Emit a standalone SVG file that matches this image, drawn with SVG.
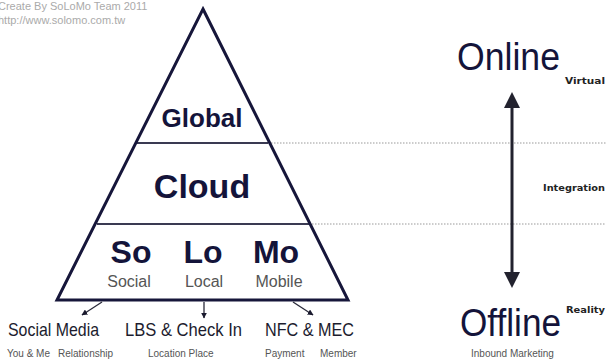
<svg xmlns="http://www.w3.org/2000/svg" width="607" height="360" viewBox="0 0 607 360">
  <defs>
    <marker id="thin" viewBox="0 0 10 10" refX="9" refY="5" markerWidth="6" markerHeight="6" orient="auto" markerUnits="userSpaceOnUse">
      <path d="M0,0 L10,5 L0,10 Z" fill="#1a1a2e"/>
    </marker>
  </defs>
  <style>
    .edge { stroke: #16163a; stroke-width: 3; fill: none; stroke-linejoin: miter; }
    .divider { stroke: #3a3a52; stroke-width: 2; }
    .dots { stroke: #999; stroke-width: 1; stroke-dasharray: 1.5 1.5; }
    .tier { font-family: "Liberation Sans", Arial, sans-serif; font-weight: bold; fill: #14143a; text-anchor: middle; }
    .sub { font-family: "Liberation Sans", Arial, sans-serif; fill: #555; text-anchor: middle; font-size: 16px; }
    .label { font-family: "Liberation Sans", Arial, sans-serif; fill: #1c1c2e; font-size: 19px; }
    .note { font-family: "Liberation Sans", Arial, sans-serif; fill: #555; font-size: 10px; }
    .big { font-family: "Liberation Sans", Arial, sans-serif; fill: #14143a; font-size: 38px; }
    .tag { font-family: "DejaVu Sans", Verdana, sans-serif; font-weight: bold; fill: #222; font-size: 9px; }
    .credit { font-family: "Liberation Sans", Arial, sans-serif; fill: #aaa; font-size: 11px; }
    .link { stroke: #2a2a3a; stroke-width: 1.3; }
  </style>

  <rect width="607" height="360" fill="#fff"/>

  <!-- credit lines -->
  <text class="credit" x="-2" y="10">Create By SoLoMo Team 2011</text>
  <text class="credit" x="-2" y="24">http://www.solomo.com.tw</text>

  <!-- dotted level guides -->
  <g id="guides">
    <line class="dots" x1="268" y1="143" x2="606" y2="143"/>
    <line class="dots" x1="309" y1="224" x2="606" y2="224"/>
  </g>

  <!-- pyramid -->
  <g id="pyramid">
    <line class="divider" x1="137" y1="143" x2="268" y2="143"/>
    <line class="divider" x1="97" y1="224" x2="309" y2="224"/>
    <polygon class="edge" points="203,9 348,300 57,300"/>
  </g>

  <g id="global">
    <text class="tier" x="202" y="127" font-size="26">Global</text>
  </g>
  <g id="cloud">
    <text class="tier" x="202" y="198" font-size="34">Cloud</text>
  </g>
  <g id="solomo">
    <text class="tier" x="131" y="263" font-size="32">So</text>
    <text class="tier" x="203" y="263" font-size="32">Lo</text>
    <text class="tier" x="276" y="263" font-size="32">Mo</text>
    <text class="sub" x="129" y="287">Social</text>
    <text class="sub" x="204" y="287">Local</text>
    <text class="sub" x="279" y="287">Mobile</text>
  </g>

  <!-- connectors from pyramid base -->
  <g id="connectors">
    <line class="link" x1="102" y1="302" x2="82" y2="315" marker-end="url(#thin)"/>
    <line class="link" x1="204" y1="302" x2="204" y2="318" marker-end="url(#thin)"/>
    <line class="link" x1="293" y1="302" x2="313" y2="315" marker-end="url(#thin)"/>
    <!-- online/offline axis -->
    <line x1="512" y1="104" x2="512" y2="274" stroke="#22222e" stroke-width="3"/>
    <polygon points="512,92 504,108 520,108" fill="#22222e"/>
    <polygon points="512,288 504,272 520,272" fill="#22222e"/>
  </g>

  <g id="social-media">
    <text class="label" x="8" y="336" textLength="91" lengthAdjust="spacingAndGlyphs">Social Media</text>
    <text class="note" x="7" y="357">You &amp; Me</text>
    <text class="note" x="58" y="357">Relationship</text>
  </g>
  <g id="lbs">
    <text class="label" x="125" y="336" textLength="117" lengthAdjust="spacingAndGlyphs">LBS &amp; Check In</text>
    <text class="note" x="148" y="357">Location Place</text>
  </g>
  <g id="nfc">
    <text class="label" x="265" y="336" textLength="89" lengthAdjust="spacingAndGlyphs">NFC &amp; MEC</text>
    <text class="note" x="265" y="357">Payment</text>
    <text class="note" x="320" y="357">Member</text>
  </g>

  <g id="online">
    <text class="big" x="457" y="70" textLength="103" lengthAdjust="spacingAndGlyphs">Online</text>
    <text class="tag" x="565" y="84" textLength="40" lengthAdjust="spacingAndGlyphs">Virtual</text>
  </g>
  <g id="integration">
    <text class="tag" x="543" y="191" textLength="62" lengthAdjust="spacingAndGlyphs">Integration</text>
  </g>
  <g id="offline">
    <text class="big" x="460" y="336" textLength="101" lengthAdjust="spacingAndGlyphs">Offline</text>
    <text class="tag" x="566" y="313" textLength="39" lengthAdjust="spacingAndGlyphs">Reality</text>
    <text class="note" x="471" y="357">Inbound Marketing</text>
  </g>
</svg>
